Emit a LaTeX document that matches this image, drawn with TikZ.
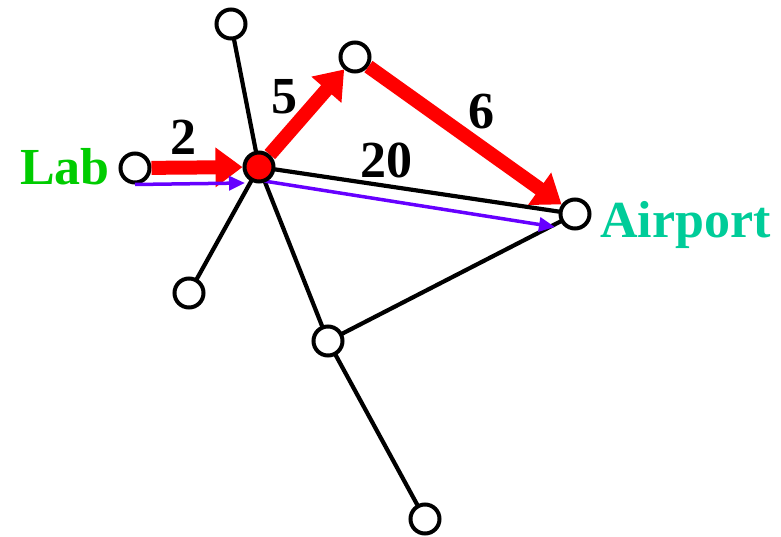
\documentclass[tikz,border=0pt]{standalone}
\usepackage{fontspec}
\setmainfont{Liberation Serif}
\usetikzlibrary{arrows.meta,backgrounds}
\definecolor{labgreen}{RGB}{0,204,0}
\definecolor{airteal}{RGB}{0,204,153}
\definecolor{pathpurple}{RGB}{102,0,255}
\begin{document}
\begin{tikzpicture}[x=1pt,y=-1pt,
 vtx/.style={circle,draw=black,line width=4pt,fill=white,minimum size=29pt,inner sep=0pt},
 edge/.style={draw=black,line width=4.2pt},
 redarrow/.style={draw=red,line width=14pt,-{Triangle[length=27pt,width=38pt]}},
 purplearrow/.style={draw=pathpurple,line width=3.5pt,-{Triangle[length=16pt,width=14pt]}},
 wlabel/.style={font=\fontsize{52}{52}\selectfont\bfseries,inner sep=0pt},
 ]
\useasboundingbox (0,0) rectangle (781,537);
\node[vtx] (top) at (231,24) {};
\node[vtx] (lab) at (135,168) {};
\node[vtx,fill=red] (c) at (259,167) {};
\node[vtx] (t) at (355,57) {};
\node[vtx] (a) at (575,214) {};
\node[vtx] (ll) at (189,293) {};
\node[vtx] (m) at (328,341) {};
\node[vtx] (b) at (425,519) {};
\coordinate (p1end) at (245,183);
\coordinate (p2start) at (264,181);
\coordinate (p2end) at (555,227);
\begin{scope}[on background layer]
\draw[edge] (c.center) -- (top.center);
\draw[edge] (c.center) -- (ll.center);
\draw[edge] (c.center) -- (m.center);
\draw[edge] (m.center) -- (b.center);
\draw[edge] (m.center) -- (a.center);
\draw[edge] (c.center) -- (a.center);
\draw[purplearrow] (p2start) -- (p2end);
\end{scope}
\draw[redarrow] (lab) -- (c);
\draw[redarrow] (c) -- (t);
\draw[redarrow] (t) -- (a);
\draw[purplearrow] (lab.south) -- (p1end);
\node[wlabel] (l2) at (183,137) {2};
\node[wlabel] (l5) at (284,97) {5};
\node[wlabel] (l6) at (481,112) {6};
\node[wlabel] (l20) at (386,160) {20};
\node[wlabel,text=labgreen,anchor=base west] (labtxt) at (20,185) {Lab};
\node[wlabel,text=airteal,anchor=base west] (airtxt) at (600,237) {Airport};
\end{tikzpicture}
\end{document}
